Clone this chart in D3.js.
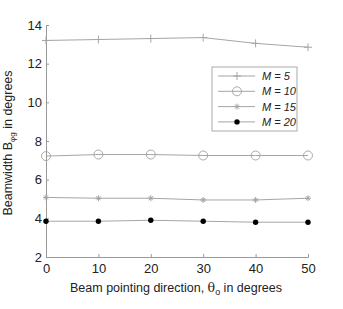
<!DOCTYPE html>
<html>
<head>
  <title>Beamwidth vs pointing direction</title>
  <script src="https://d3js.org/d3.v7.min.js"></script>
  <style>
    body { margin: 0; background: #fff; }
    text { font-family: "Liberation Sans", Arial, sans-serif; fill: #222; }
  </style>
</head>
<body>
<script type="text/javascript">
  var w = 343;
  var h = 309;

  // data
  var angles = [0, 10, 20, 30, 40, 50];
  var seriesNames = ["M = 5", "M = 10", "M = 15", "M = 20"];
  var m5  = [13.2, 13.25, 13.3, 13.35, 13.05, 12.85];
  var m10 = [7.22, 7.3, 7.3, 7.25, 7.25, 7.25];
  var m15 = [5.08, 5.04, 5.04, 4.95, 4.95, 5.04];
  var m20 = [3.85, 3.85, 3.9, 3.85, 3.8, 3.8];
  var xTicks = [0, 10, 20, 30, 40, 50];
  var yTicks = [2, 4, 6, 8, 10, 12, 14];

  var margin = {left: 46, top: 25, right: 35, bottom: 52};

  var svg = d3.select("body").append("svg")
    .attr("width", w)
    .attr("height", h);

  var x = d3.scaleLinear().domain([0, 50]).range([margin.left, w - margin.right]);
  var y = d3.scaleLinear().domain([2, 14]).range([h - margin.bottom, margin.top]);

  var axisColor = "#999";
  var lineColor = "#a5a5a5";

  // x axis
  var gx = svg.append("g")
    .attr("transform", "translate(0," + y(2) + ")")
    .call(d3.axisBottom(x).tickValues(xTicks).tickSize(-3).tickPadding(7));
  gx.select(".domain").attr("stroke", axisColor);
  gx.selectAll(".tick line").attr("stroke", axisColor);
  gx.selectAll("text").attr("font-size", 13).attr("fill", "#222");

  // y axis
  var gy = svg.append("g")
    .attr("transform", "translate(" + x(0) + ",0)")
    .call(d3.axisLeft(y).tickValues(yTicks).tickSize(-3).tickPadding(4));
  gy.select(".domain").attr("stroke", axisColor);
  gy.selectAll(".tick line").attr("stroke", axisColor);
  gy.selectAll("text").attr("font-size", 13).attr("fill", "#222");

  var series = [m5, m10, m15, m20];
  var markers = ["plus", "circle", "star", "dot"];

  var line = d3.line()
    .x(function(d, i){ return x(angles[i]); })
    .y(function(d){ return y(d); });

  function drawMarker(g, type, cx, cy) {
    if (type == "plus") {
      g.append("path").attr("d", "M" + (cx - 4) + "," + cy + "H" + (cx + 4) + "M" + cx + "," + (cy - 4) + "V" + (cy + 4))
        .attr("stroke", lineColor).attr("stroke-width", 1).attr("fill", "none");
    } else if (type == "circle") {
      g.append("circle").attr("cx", cx).attr("cy", cy).attr("r", 4.5)
        .attr("fill", "none").attr("stroke", "#aaa").attr("stroke-width", 1);
    } else if (type == "star") {
      g.append("path").attr("d", "M" + (cx - 3) + "," + cy + "H" + (cx + 3) + "M" + cx + "," + (cy - 3) + "V" + (cy + 3)
          + "M" + (cx - 2) + "," + (cy - 2) + "L" + (cx + 2) + "," + (cy + 2) + "M" + (cx - 2) + "," + (cy + 2) + "L" + (cx + 2) + "," + (cy - 2))
        .attr("stroke", lineColor).attr("stroke-width", 1).attr("fill", "none");
    } else {
      g.append("circle").attr("cx", cx).attr("cy", cy).attr("r", 2.7).attr("fill", "#000");
    }
  }

  series.forEach(function(s, k){
    var g = svg.append("g");
    g.append("path")
      .datum(s)
      .attr("d", line)
      .attr("fill", "none")
      .attr("stroke", lineColor)
      .attr("stroke-width", 1);
    s.forEach(function(v, i){
      drawMarker(g, markers[k], x(angles[i]), y(v));
    });
  });

  // legend
  var lx = 212, ly = 67, lw = 85, lh = 64;
  var legend = svg.append("g");
  legend.append("rect")
    .attr("x", lx).attr("y", ly).attr("width", lw).attr("height", lh)
    .attr("fill", "#fff").attr("stroke", "#aaa").attr("stroke-width", 1);
  seriesNames.forEach(function(name, k){
    var ry = ly + 9 + k * 15.3;
    legend.append("line")
      .attr("x1", lx + 6).attr("x2", lx + 43).attr("y1", ry).attr("y2", ry)
      .attr("stroke", lineColor).attr("stroke-width", 1);
    drawMarker(legend, markers[k], lx + 25, ry);
    legend.append("text")
      .attr("x", lx + 50).attr("y", ry + 4)
      .attr("font-size", 11)
      .attr("font-style", "italic")
      .text(name);
  });

  // axis titles
  var xt = svg.append("text")
    .attr("x", 176).attr("y", 292)
    .attr("text-anchor", "middle")
    .attr("font-size", 12.5);
  xt.append("tspan").text("Beam pointing direction, ");
  xt.append("tspan").attr("font-family", "DejaVu Serif, serif").text("θ");
  xt.append("tspan").attr("font-size", 9).attr("dy", 3).text("o");
  xt.append("tspan").attr("dy", -3).text(" in degrees");

  var yt = svg.append("text")
    .attr("transform", "translate(12,143) rotate(-90)")
    .attr("text-anchor", "middle")
    .attr("font-size", 12.5);
  yt.append("tspan").text("Beamwidth B");
  yt.append("tspan").attr("font-size", 8).attr("dy", 3).text("φg");
  yt.append("tspan").attr("dy", -3).text(" in degrees");
</script>
</body>
</html>
